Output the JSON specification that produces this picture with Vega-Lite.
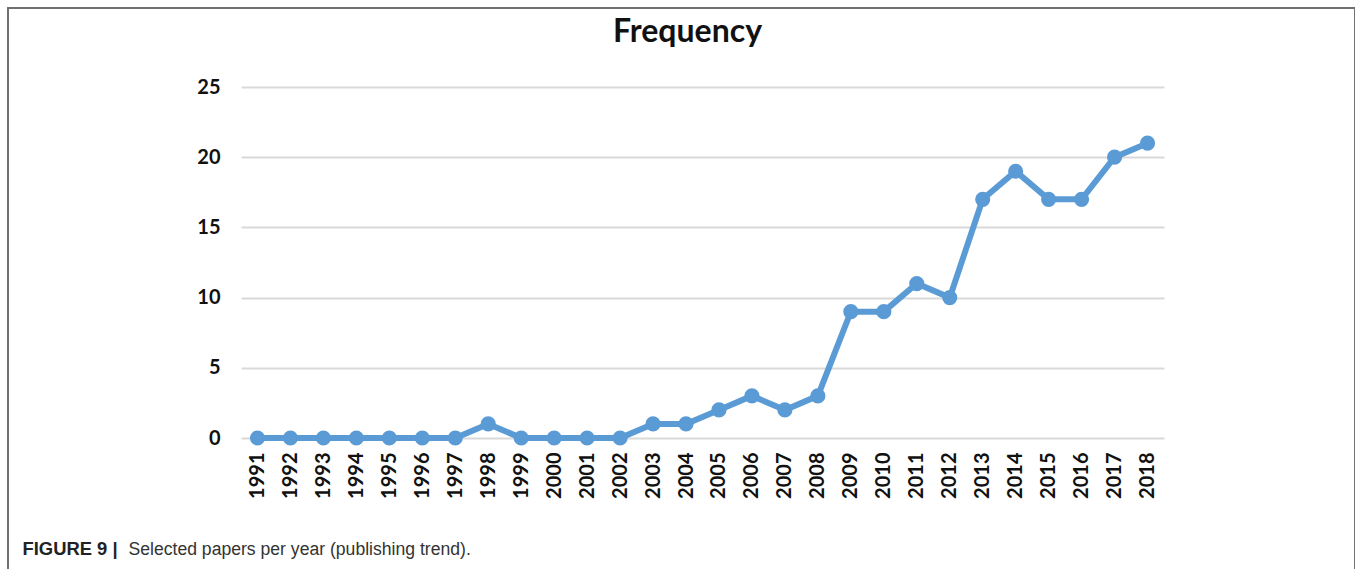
{
  "$schema": "https://vega.github.io/schema/vega-lite/v6.json",
  "autosize": "none",
  "width": 1347,
  "height": 600,
  "padding": {"left": 8, "top": 8, "right": 0, "bottom": 0},
  "background": "white",
  "title": {
    "text": "Frequency",
    "orient": "top",
    "anchor": "middle",
    "frame": "group",
    "offset": -41,
    "dx": 6,
    "font": "Lato",
    "fontSize": 32,
    "fontWeight": "bold",
    "color": "#111111"
  },
  "data": {
    "values": [
      {"year": "1991", "papers": 0},
      {"year": "1992", "papers": 0},
      {"year": "1993", "papers": 0},
      {"year": "1994", "papers": 0},
      {"year": "1995", "papers": 0},
      {"year": "1996", "papers": 0},
      {"year": "1997", "papers": 0},
      {"year": "1998", "papers": 1},
      {"year": "1999", "papers": 0},
      {"year": "2000", "papers": 0},
      {"year": "2001", "papers": 0},
      {"year": "2002", "papers": 0},
      {"year": "2003", "papers": 1},
      {"year": "2004", "papers": 1},
      {"year": "2005", "papers": 2},
      {"year": "2006", "papers": 3},
      {"year": "2007", "papers": 2},
      {"year": "2008", "papers": 3},
      {"year": "2009", "papers": 9},
      {"year": "2010", "papers": 9},
      {"year": "2011", "papers": 11},
      {"year": "2012", "papers": 10},
      {"year": "2013", "papers": 17},
      {"year": "2014", "papers": 19},
      {"year": "2015", "papers": 17},
      {"year": "2016", "papers": 17},
      {"year": "2017", "papers": 20},
      {"year": "2018", "papers": 21}
    ]
  },
  "mark": {
    "type": "line",
    "color": "#5B9BD5",
    "strokeWidth": 6,
    "point": {"filled": true, "size": 230, "color": "#5B9BD5", "opacity": 1}
  },
  "encoding": {
    "x": {
      "field": "year",
      "type": "ordinal",
      "sort": null,
      "scale": {"type": "point", "padding": 0.5, "range": [233, 1156]},
      "axis": {
        "offset": -170,
        "domain": false,
        "ticks": false,
        "grid": false,
        "labelAngle": 270,
        "labelAlign": "right",
        "labelBaseline": "middle",
        "labelPadding": 14,
        "labelFont": "Lato",
        "labelFontSize": 20,
        "labelFontWeight": "bold",
        "labelColor": "#111111",
        "title": "Selected papers per year (publishing trend).",
        "titleFont": "Liberation Sans",
        "titleFontSize": 17.6,
        "titleFontWeight": "normal",
        "titleColor": "#333333",
        "titleAlign": "left",
        "titleAnchor": null,
        "titleBaseline": "alphabetic",
        "titleX": 120,
        "titleY": 116
      }
    },
    "y": {
      "field": "papers",
      "type": "quantitative",
      "scale": {"domain": [0, 25], "range": [430, 79], "nice": false, "zero": true},
      "axis": {
        "offset": -233,
        "values": [0, 5, 10, 15, 20, 25],
        "domain": false,
        "ticks": false,
        "grid": true,
        "gridColor": "#d9d9d9",
        "gridWidth": 2,
        "labelPadding": 21,
        "labelFont": "Lato",
        "labelFontSize": 20,
        "labelFontWeight": "bold",
        "labelColor": "#111111",
        "title": "FIGURE 9 |",
        "titleFont": "Liberation Sans",
        "titleFontSize": 18.4,
        "titleFontWeight": "bold",
        "titleColor": "#222222",
        "titleAngle": 0,
        "titleAlign": "left",
        "titleAnchor": null,
        "titleBaseline": "alphabetic",
        "titleX": -219,
        "titleY": 546
      }
    }
  },
  "config": {
    "view": {"stroke": "#707070", "strokeWidth": 2}
  }
}
